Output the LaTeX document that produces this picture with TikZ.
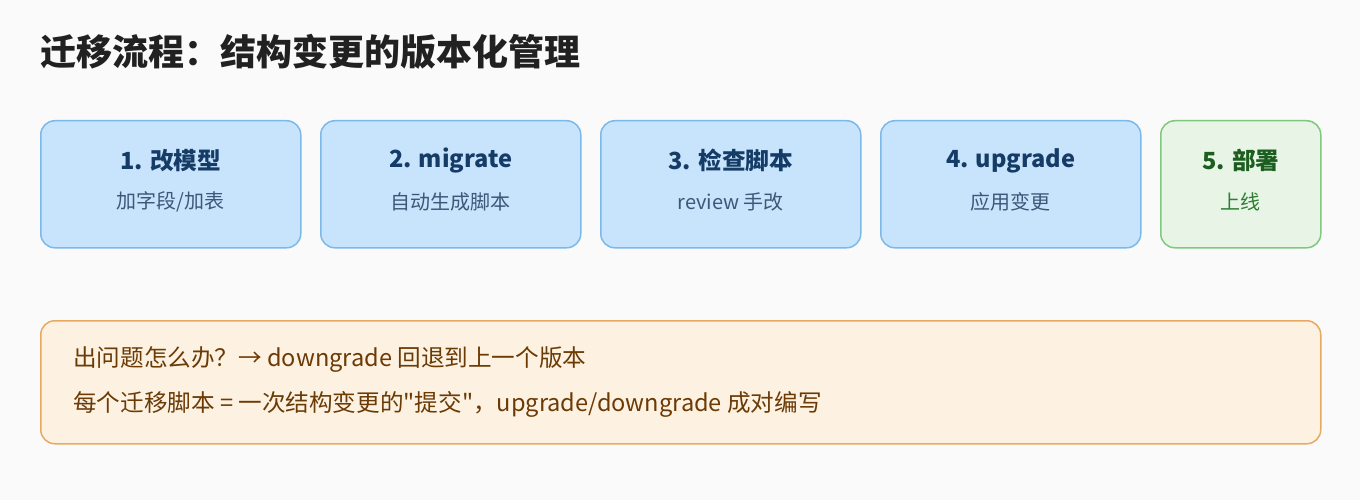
\documentclass[tikz,border=0pt]{standalone}
\usepackage{fontspec}
\setmainfont{Noto Sans CJK SC}
\definecolor{bgcol}{HTML}{FAFAFA}
\definecolor{bluefill}{HTML}{C8E4FD}
\definecolor{blueline}{HTML}{7DB9E8}
\definecolor{bluetext}{HTML}{153C66}
\definecolor{bluesub}{HTML}{3A5878}
\definecolor{greenfill}{HTML}{E8F5E6}
\definecolor{greenline}{HTML}{80C87E}
\definecolor{greentext}{HTML}{1B5E20}
\definecolor{greensub}{HTML}{2E7D32}
\definecolor{notefill}{HTML}{FDF2E2}
\definecolor{noteline}{HTML}{E8A962}
\definecolor{notetext}{HTML}{6B3A05}

\begin{document}
\begin{tikzpicture}[x=1pt,y=-1pt,
	stepbox/.style={draw=blueline,fill=bluefill,line width=1.5pt,rounded corners=14pt,anchor=north west,minimum width=260pt,minimum height=127pt,inner sep=0pt},
	steptitle/.style={text=bluetext,font=\fontsize{23.6}{28}\selectfont\bfseries},
	stepsub/.style={text=bluesub,font=\fontsize{20}{24}\selectfont},
	notetxt/.style={text=notetext,font=\fontsize{23.6}{28}\selectfont,anchor=west,inner sep=0pt}]
	\useasboundingbox[fill=bgcol] (0,0) rectangle (1360,500);
	% title
	\node[anchor=west,inner sep=0pt,text=black!87,font=\fontsize{36}{42}\selectfont\bfseries] (title) at (40,52) {迁移流程：结构变更的版本化管理};
	% steps
	\foreach \i/\x/\t/\s in {1/40/{1. 改模型}/{加字段/加表},2/320/{2. migrate}/{自动生成脚本},3/600/{3. 检查脚本}/{review 手改},4/880/{4. upgrade}/{应用变更}}{
		\node[stepbox] (step\i) at (\x,120) {};
		\node[steptitle] (step\i t) at ([yshift=23.5pt]step\i.center) {\t};
		\node[stepsub] (step\i s) at ([yshift=-17.5pt]step\i.center) {\s};
	}
	\node[stepbox,draw=greenline,fill=greenfill,minimum width=160pt] (step5) at (1160,120) {};
	\node[steptitle,text=greentext] (step5t) at ([yshift=23.5pt]step5.center) {5. 部署};
	\node[stepsub,text=greensub] (step5s) at ([yshift=-17.5pt]step5.center) {上线};
	% note
	\node[stepbox,draw=noteline,fill=notefill,minimum width=1280pt,minimum height=123pt] (note) at (40,320) {};
	\node[notetxt] (line1) at (73,360) {出问题怎么办？→ downgrade 回退到上一个版本};
	\node[notetxt] (line2) at (73,404) {每个迁移脚本 = 一次结构变更的\textquotedbl 提交\textquotedbl，upgrade/downgrade 成对编写};
\end{tikzpicture}
\end{document}
